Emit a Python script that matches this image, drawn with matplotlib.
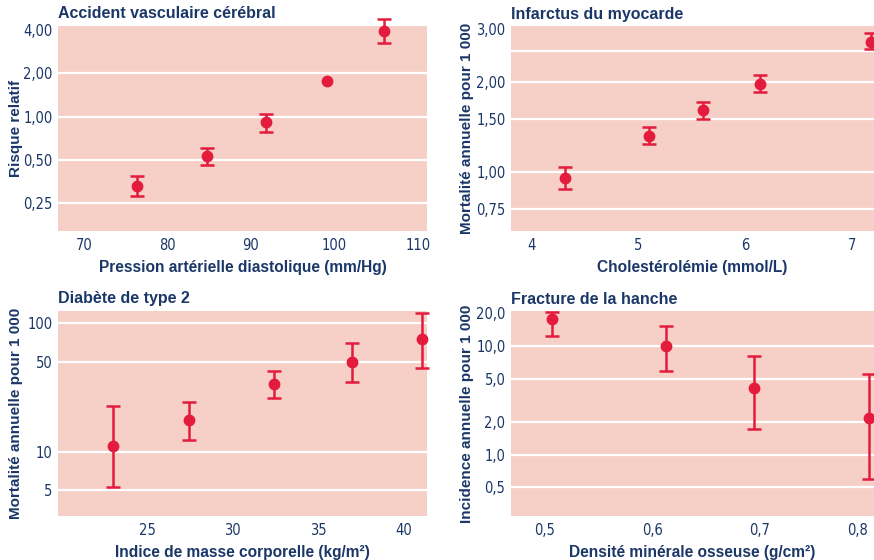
import matplotlib.pyplot as plt
from matplotlib.ticker import FixedLocator, NullLocator

nan = float('nan')

# Accident vasculaire cérébral
avc_x = [76.4, 84.7, 91.8, 99.1, 106.0]
avc_y = [0.33, 0.53, 0.92, 1.78, 3.96]
avc_lo = [0.28, 0.46, 0.78, nan, 3.25]
avc_hi = [0.39, 0.61, 1.05, nan, 4.77]

# Infarctus du myocarde
idm_x = [4.32, 5.10, 5.61, 6.14, 7.18]
idm_y = [0.95, 1.32, 1.61, 1.97, 2.72]
idm_lo = [0.875, 1.24, 1.50, 1.85, 2.57]
idm_hi = [1.04, 1.41, 1.71, 2.11, 2.90]

# Diabète de type 2
dia_x = [22.97, 27.44, 32.45, 36.99, 41.12]
dia_y = [11.1, 17.7, 33.5, 50.0, 76.0]
dia_lo = [5.3, 12.3, 26.0, 35.1, 44.9]
dia_hi = [22.7, 24.3, 42.3, 70.6, 121.0]

# Fracture de la hanche
fra_x = [0.507, 0.613, 0.695, 0.801]
fra_y = [17.6, 10.0, 4.1, 2.16]
fra_lo = [12.3, 5.9, 1.74, 0.595]
fra_hi = [20.5, 15.4, 8.1, 5.5]

navy = '#1b3768'
red = '#e31c3d'
pink = '#f6d0c6'

plt.rcParams['font.family'] = ['Liberation Sans', 'DejaVu Sans']

fig = plt.figure(figsize=(8.74, 5.6), dpi=100)

panels = [
    dict(rect=[58, 26, 427, 231], x=avc_x, y=avc_y, lo=avc_lo, hi=avc_hi,
         xlim=(66.9, 111.1), ylim=(0.161, 4.26),
         xticks=[70, 80, 90, 100, 110], xlabels=['70', '80', '90', '100', '110'],
         yticks=[0.25, 0.5, 1, 2, 4], ylabels=['0,25', '0,50', '1,00', '2,00', '4,00'],
         grid=[0.25, 0.5, 1, 2],
         title='Accident vasculaire cérébral', ylabel='Risque relatif',
         xlabel='Pression artérielle diastolique (mm/Hg)', ylx=16),
    dict(rect=[511, 26, 874, 231], x=idm_x, y=idm_y, lo=idm_lo, hi=idm_hi,
         xlim=(3.81, 7.21), ylim=(0.634, 3.07),
         xticks=[4, 5, 6, 7], xlabels=['4', '5', '6', '7'],
         yticks=[0.75, 1, 1.5, 2, 3], ylabels=['0,75', '1,00', '1,50', '2,00', '3,00'],
         grid=[0.75, 1, 1.5, 2, 2.53],
         title='Infarctus du myocarde', ylabel='Mortalité annuelle pour 1 000',
         xlabel='Cholestérolémie (mmol/L)', ylx=467),
    dict(rect=[58, 311, 427, 516], x=dia_x, y=dia_y, lo=dia_lo, hi=dia_hi,
         xlim=(19.77, 41.39), ylim=(3.16, 124.7),
         xticks=[25, 30, 35, 40], xlabels=['25', '30', '35', '40'],
         yticks=[5, 10, 50, 100], ylabels=['5', '10', '50', '100'],
         grid=[5, 10, 50, 100],
         title='Diabète de type 2', ylabel='Mortalité annuelle pour 1 000',
         xlabel='Indice de masse corporelle (kg/m²)', ylx=16),
    dict(rect=[511, 311, 874, 516], x=fra_x, y=fra_y, lo=fra_lo, hi=fra_hi,
         xlim=(0.469, 0.806), ylim=(0.273, 21.0),
         xticks=[0.5, 0.6, 0.7, 0.8], xlabels=['0,5', '0,6', '0,7', '0,8'],
         yticks=[0.5, 1, 2, 5, 10, 20], ylabels=['0,5', '1,0', '2,0', '5,0', '10,0', '20,0'],
         grid=[0.5, 1, 2, 5, 10],
         title='Fracture de la hanche', ylabel='Incidence annuelle pour 1 000',
         xlabel='Densité minérale osseuse (g/cm²)', ylx=467),
]

W, H = 874, 560
for p in panels:
    l, t, r, b = p['rect']
    ax = fig.add_axes([l / W, 1 - b / H, (r - l) / W, (b - t) / H])
    ax.set_facecolor(pink)
    ax.set_yscale('log')
    ax.set_xlim(*p['xlim'])
    ax.set_ylim(*p['ylim'])
    for s in ax.spines.values():
        s.set_visible(False)
    for g in p['grid']:
        ax.axhline(g, color='white', lw=1.6, zorder=1)

    yerr = [[v - lo for v, lo in zip(p['y'], p['lo'])],
            [hi - v for v, hi in zip(p['y'], p['hi'])]]
    ax.errorbar(p['x'], p['y'], yerr=yerr, fmt='o', color=red, ms=7.5,
                elinewidth=1.8, capsize=5, capthick=1.8, zorder=3, clip_on=False)

    ax.xaxis.set_major_locator(FixedLocator(p['xticks']))
    ax.set_xticklabels(p['xlabels'])
    ax.yaxis.set_major_locator(FixedLocator(p['yticks']))
    ax.yaxis.set_minor_locator(NullLocator())
    ax.set_yticklabels(p['ylabels'])
    ax.tick_params(axis='x', length=0, labelsize=10.5, labelcolor=navy, pad=5)
    ax.tick_params(axis='y', length=0, labelsize=10.5, labelcolor=navy, pad=4)
    for lab in ax.get_xticklabels() + ax.get_yticklabels():
        lab.set_family(['DejaVu Sans', 'Liberation Sans'])
        lab.set_stretch('condensed')
    if p['xlabels'][-1] == '0,8':
        ax.get_xticklabels()[-1].set_horizontalalignment('right')

    ax.set_xlabel(p['xlabel'], fontsize=11.2, color=navy, fontweight='bold', labelpad=5)
    fig.text(l / W, 1 - (t - 12) / H, p['title'], fontsize=11.5, color=navy,
             fontweight='bold', ha='left', va='center')
    fig.text(p['ylx'] / W, 1 - (t + b) / 2 / H, p['ylabel'], fontsize=11, color=navy,
             fontweight='bold', rotation=90, ha='center', va='center')

fig.savefig('out.png', dpi=100)
